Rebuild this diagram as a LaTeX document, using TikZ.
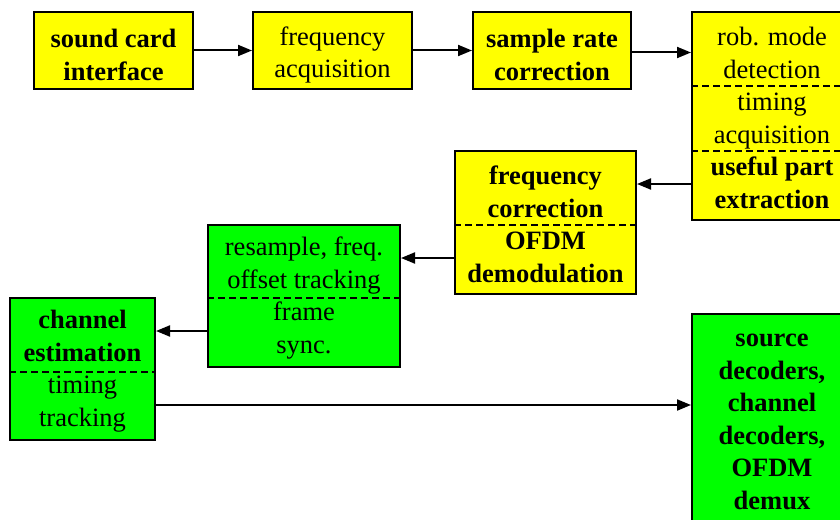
\documentclass[tikz,border=0pt]{standalone}
\usepackage{fontspec}
\setmainfont{Liberation Serif}
\usetikzlibrary{arrows.meta}
\definecolor{ybox}{RGB}{255,255,0}
\definecolor{gbox}{RGB}{0,255,0}
\tikzset{
  blk/.style={draw=black, line width=2pt, inner sep=0pt},
  ylw/.style={blk, fill=ybox},
  grn/.style={blk, fill=gbox},
  sep/.style={dashed, dash pattern=on 7pt off 4pt, line width=2pt},
  arr/.style={line width=2pt, -{Triangle[length=14pt,width=11pt]}},
  txt/.style={align=center, inner sep=0pt, font=\fontsize{26.5}{32.5}\selectfont}
}
\begin{document}
\begin{tikzpicture}[x=1pt,y=-1pt]
\useasboundingbox (0,0) rectangle (840,519);
\fill[white] (0,0) rectangle (840,519);
\clip (0,0) rectangle (840,519);
% top row
\node[ylw, minimum width=159pt, minimum height=77pt] (sci) at (113.5,50.5) {};
\node[txt] (scit) at (sci.center) [yshift=-4.5pt] {\textbf{sound card}\\\textbf{interface}};
\node[ylw, minimum width=159pt, minimum height=77pt] (fa) at (332.5,50.5) {};
\node[txt] (fat) at (fa.center) [yshift=-4.5pt] {frequency\\acquisition};
\node[ylw, minimum width=158pt, minimum height=77pt] (src) at (552,50.5) {};
\node[txt] (srct) at (src.center) [yshift=-4.5pt] {\textbf{sample rate}\\\textbf{correction}};
% right column box
\node[ylw, minimum width=160pt, minimum height=208pt] (rb) at (772,116) {};
\node[txt] (rbt) at (rb.center) [yshift=-2pt] {rob. mode\\detection\\timing\\acquisition\\\textbf{useful part}\\\textbf{extraction}};
\draw[sep] (rb.west |- 0,86) -- (rb.east |- 0,86);
\draw[sep] (rb.west |- 0,151) -- (rb.east |- 0,151);
% frequency correction / OFDM demodulation
\node[ylw, minimum width=181pt, minimum height=143pt] (fc) at (545.5,222.5) {};
\node[txt] (fct) at (fc.center) [yshift=-2pt] {\textbf{frequency}\\\textbf{correction}\\\textbf{OFDM}\\\textbf{demodulation}};
\draw[sep] (fc.west |- 0,225) -- (fc.east |- 0,225);
% resample
\node[grn, minimum width=192pt, minimum height=142pt] (rs) at (304,296) {};
\node[txt] (rst) at (rs.center) [yshift=-2pt] {resample, freq.\\offset tracking\\frame\\sync.};
\draw[sep] (rs.west |- 0,298) -- (rs.east |- 0,298);
% channel estimation
\node[grn, minimum width=145pt, minimum height=142pt] (ce) at (82.5,369) {};
\node[txt] (cet) at (ce.center) [yshift=-2pt] {\textbf{channel}\\\textbf{estimation}\\timing\\tracking};
\draw[sep] (ce.west |- 0,372) -- (ce.east |- 0,372);
% source decoders
\node[grn, minimum width=160pt, minimum height=212pt] (sd) at (772,420) {};
\node[txt] (sdt) at (sd.center) [yshift=-2pt] {\textbf{source}\\\textbf{decoders,}\\\textbf{channel}\\\textbf{decoders,}\\\textbf{OFDM}\\\textbf{demux}};
% connectors
\draw[arr] (sci.east) -- (fa.west);
\draw[arr] (fa.east) -- (src.west);
\draw[arr] ([yshift=-2pt]src.east) -- ([yshift=-2pt]src.east -| rb.west);
\draw[arr] (rb.west |- 0,184) -- (fc.east |- 0,184);
\draw[arr] (fc.west |- 0,258) -- (rs.east |- 0,258);
\draw[arr] (rs.west |- 0,331) -- (ce.east |- 0,331);
\draw[arr] (ce.east |- 0,405) -- (sd.west |- 0,405);
\end{tikzpicture}
\end{document}
